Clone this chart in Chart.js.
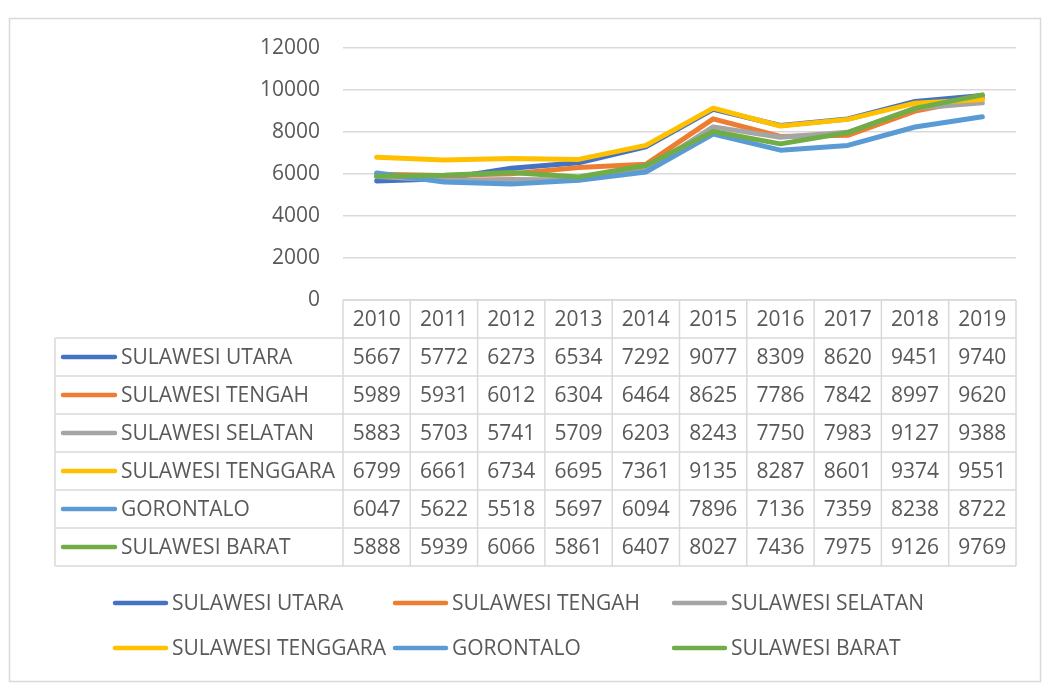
<!DOCTYPE html>
<html>
<head>
<meta charset="utf-8">
<script src="https://cdn.jsdelivr.net/npm/chart.js@4"></script>
<style>
  html, body { margin: 0; padding: 0; background: #fff; }
  #wrap { width: 1049px; height: 687px; position: relative; }
</style>
</head>
<body>
<div id="wrap"><canvas id="ipmChart"></canvas></div>
<script>
// data
const years = ['2010', '2011', '2012', '2013', '2014', '2015', '2016', '2017', '2018', '2019'];
const provinces = ['SULAWESI UTARA', 'SULAWESI TENGAH', 'SULAWESI SELATAN', 'SULAWESI TENGGARA', 'GORONTALO', 'SULAWESI BARAT'];
const utara = [5667, 5772, 6273, 6534, 7292, 9077, 8309, 8620, 9451, 9740];
const tengah = [5989, 5931, 6012, 6304, 6464, 8625, 7786, 7842, 8997, 9620];
const selatan = [5883, 5703, 5741, 5709, 6203, 8243, 7750, 7983, 9127, 9388];
const tenggara = [6799, 6661, 6734, 6695, 7361, 9135, 8287, 8601, 9374, 9551];
const gorontalo = [6047, 5622, 5518, 5697, 6094, 7896, 7136, 7359, 8238, 8722];
const barat = [5888, 5939, 6066, 5861, 6407, 8027, 7436, 7975, 9126, 9769];
const yMin = 0, yMax = 12000, yStep = 2000;

const series = [utara, tengah, selatan, tenggara, gorontalo, barat];
const colors = ['#4472C4', '#ED7D31', '#A5A5A5', '#FFC000', '#5B9BD5', '#70AD47'];
const textColor = '#595959';
const lineGray = '#D9D9D9';
const FONT = '"Open Sans", sans-serif';
const FSIZE = 21;

// data table + legend drawn under the plot, aligned to the x scale
const tablePlugin = {
  id: 'dataTable',
  afterDraw(chart) {
    const { ctx, chartArea: a, scales: { x } } = chart;
    const colW = (a.right - a.left) / years.length;
    const rowH = 38;
    const top = a.bottom;
    const left = 55;
    const nRows = provinces.length + 1;

    ctx.save();
    // outer chart border
    ctx.strokeStyle = lineGray;
    ctx.lineWidth = 1.5;
    ctx.strokeRect(9.5, 18.5, 1031, 663);

    // table grid
    ctx.beginPath();
    ctx.moveTo(a.left, top);
    ctx.lineTo(a.right, top);
    for (let r = 1; r <= nRows; r++) {
      ctx.moveTo(left, top + r * rowH);
      ctx.lineTo(a.right, top + r * rowH);
    }
    ctx.moveTo(left, top + rowH);
    ctx.lineTo(left, top + nRows * rowH);
    for (let c = 0; c <= years.length; c++) {
      ctx.moveTo(a.left + c * colW, top);
      ctx.lineTo(a.left + c * colW, top + nRows * rowH);
    }
    ctx.stroke();

    ctx.font = FSIZE + 'px ' + FONT;
    ctx.fillStyle = textColor;
    ctx.textBaseline = 'middle';
    ctx.textAlign = 'center';
    years.forEach((yr, i) => ctx.fillText(yr, x.getPixelForValue(i), top + rowH / 2 + 1));

    provinces.forEach((name, r) => {
      const cy = top + (r + 1) * rowH + rowH / 2;
      ctx.strokeStyle = colors[r];
      ctx.lineWidth = 4.5;
      ctx.lineCap = 'round';
      ctx.beginPath();
      ctx.moveTo(63, cy);
      ctx.lineTo(115, cy);
      ctx.stroke();
      ctx.textAlign = 'left';
      ctx.fillText(name, 121, cy + 1);
      ctx.textAlign = 'center';
      series[r].forEach((v, i) => ctx.fillText(String(v), x.getPixelForValue(i), cy + 1));
    });

    // legend below the table
    const legX = [113, 393, 672];
    const legY = [603, 648];
    provinces.forEach((name, i) => {
      const lx = legX[i % 3], ly = legY[Math.floor(i / 3)];
      ctx.strokeStyle = colors[i];
      ctx.lineWidth = 4.5;
      ctx.beginPath();
      ctx.moveTo(lx + 2, ly);
      ctx.lineTo(lx + 53, ly);
      ctx.stroke();
      ctx.textAlign = 'left';
      ctx.fillText(name, lx + 59, ly + 1);
    });
    ctx.restore();
  }
};

const ctx = document.getElementById('ipmChart').getContext('2d');
const ipmChart = new Chart(ctx, {
  type: 'line',
  data: {
    labels: years,
    datasets: provinces.map((name, i) => ({
      label: name,
      data: series[i],
      borderColor: colors[i],
      backgroundColor: colors[i],
      borderWidth: 5,
      pointRadius: 0,
      tension: 0,
      borderJoinStyle: 'round',
      borderCapStyle: 'round',
      order: provinces.length - i
    }))
  },
  options: {
    responsive: true,
    maintainAspectRatio: false,
    animation: false,
    layout: { padding: { left: 0, top: 48, right: 33, bottom: 387 } },
    plugins: { legend: { display: false }, tooltip: { enabled: false } },
    scales: {
      x: { display: false, offset: true },
      y: {
        min: yMin,
        max: yMax,
        afterFit(scale) { scale.width = 343; },
        border: { display: false },
        grid: { color: lineGray, lineWidth: 1.5, drawTicks: false },
        ticks: {
          stepSize: yStep,
          padding: 23,
          color: textColor,
          font: { family: FONT, size: FSIZE },
          callback: v => String(v)
        }
      }
    }
  },
  plugins: [tablePlugin]
});
</script>
</body>
</html>
